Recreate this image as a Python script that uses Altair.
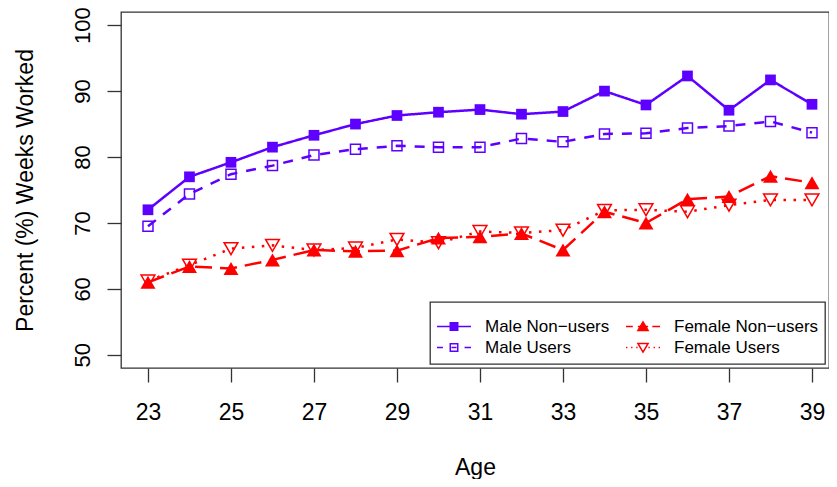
import altair as alt
import pandas as pd

ages = list(range(23, 40))
male_nonusers = [72.0, 77.0, 79.2, 81.5, 83.3, 85.0, 86.3, 86.8, 87.2, 86.5, 86.9, 90.0, 87.9, 92.3, 87.1, 91.7, 88.0]
male_users = [69.5, 74.4, 77.4, 78.7, 80.3, 81.2, 81.7, 81.5, 81.5, 82.8, 82.3, 83.5, 83.6, 84.4, 84.7, 85.4, 83.7]
female_nonusers = [61.0, 63.4, 63.1, 64.4, 65.9, 65.7, 65.8, 67.7, 67.9, 68.4, 65.9, 71.7, 70.0, 73.6, 74.0, 77.1, 76.1]
female_users = [61.2, 63.6, 66.1, 66.6, 65.9, 66.2, 67.5, 67.0, 68.7, 68.5, 68.9, 71.9, 72.0, 71.7, 72.7, 73.5, 73.5]

# legend order (column-major: Male column, then Female column)
series_names = ["Male Non\u2212users", "Male Users", "Female Non\u2212users", "Female Users"]
series_values = [male_nonusers, male_users, female_nonusers, female_users]

x_ticks = [23, 25, 27, 29, 31, 33, 35, 37, 39]
y_ticks = [50, 60, 70, 80, 90, 100]

BLUE = "#5E00FF"
RED = "#FF0000"
FONT = "Liberation Sans"

rows = []
for name, vals in zip(series_names, series_values):
    for a, v in zip(ages, vals):
        rows.append({"Age": a, "Value": v, "Series": name})
df = pd.DataFrame(rows)

x_enc = alt.X(
    "Age:Q",
    scale=alt.Scale(domain=[22.35, 39.41], nice=False, zero=False),
    axis=alt.Axis(values=x_ticks, title="Age", grid=False, domain=False,
                  tickSize=14, tickColor="#333", tickWidth=1.3,
                  labelFontSize=23, labelFont=FONT, labelColor="black",
                  labelPadding=37, labelBaseline="alphabetic", labelFlush=False,
                  labelOverlap=False,
                  titleFontSize=23, titleFont=FONT, titleFontWeight="normal",
                  titleColor="black", titleBaseline="alphabetic", titleY=106),
)
y_enc = alt.Y(
    "Value:Q",
    scale=alt.Scale(domain=[48, 102], nice=False, zero=False),
    axis=alt.Axis(values=y_ticks, title="Percent (%) Weeks Worked", grid=False,
                  domain=False, tickSize=14, tickColor="#333", tickWidth=1.3,
                  labelFontSize=22, labelFont=FONT, labelColor="black",
                  labelAngle=-90, labelAlign="center", labelBaseline="alphabetic",
                  labelPadding=18, labelFlush=False, labelOverlap=False,
                  titleFontSize=23, titleFont=FONT, titleFontWeight="normal",
                  titleColor="black", titleAngle=-90, titleAlign="center",
                  titleBaseline="alphabetic", titleX=-89, titleY=178),
)

styles = {
    "Male Non\u2212users": dict(color=BLUE, dash=[1, 0], shape="square", filled=True, size=115),
    "Male Users": dict(color=BLUE, dash=[10, 9], shape="square", filled=False, size=100),
    "Female Non\u2212users": dict(color=RED, dash=[17, 8], shape="triangle-up", filled=True, size=225),
    "Female Users": dict(color=RED, dash=[2.5, 7.5], shape="triangle-down", filled=False, size=190),
}

base = alt.Chart(df)
layers = []
for name in series_names:
    s = styles[name]
    sub = base.transform_filter(alt.datum.Series == name)
    layers.append(
        sub.mark_line(color=s["color"], strokeWidth=2.5, strokeDash=s["dash"]).encode(x=x_enc, y=y_enc)
    )
for name in series_names:
    s = styles[name]
    sub = base.transform_filter(alt.datum.Series == name)
    if s["filled"]:
        mk = sub.mark_point(shape=s["shape"], size=s["size"], filled=True, color=s["color"],
                            opacity=1, strokeWidth=0)
    else:
        mk = sub.mark_point(shape=s["shape"], size=s["size"], filled=False, color=s["color"],
                            opacity=1, strokeWidth=1.5)
    layers.append(mk.encode(x=x_enc, y=y_enc))

# legend symbols: line + marker, normalized [-1, 1] coordinates
sq = "M-0.22,-0.22L0.22,-0.22L0.22,0.22L-0.22,0.22Z"
tri_up = "M0,-0.27L0.3,0.24L-0.3,0.24Z"
tri_dn = "M0,0.27L0.3,-0.24L-0.3,-0.24Z"
solid = "M-1,0L1,0"
dashed = "M-1,0L-0.65,0M-0.15,0L0.15,0M0.62,0L1,0"
longdash = "M-1,0L-0.6,0M-0.3,0L0.3,0M0.55,0L1,0"
dotted = "M-1,0L-0.92,0M-0.7,0L-0.62,0M-0.4,0L-0.32,0M0.32,0L0.4,0M0.62,0L0.7,0M0.92,0L1,0"
legend_paths = [
    solid + sq,
    dashed + sq,
    longdash + tri_up,
    dotted + tri_dn,
]
legend_stroke = [BLUE, BLUE, RED, RED]
legend_fill = [BLUE, "transparent", RED, "transparent"]

legend_layer = base.mark_point(opacity=0).encode(
    x=x_enc, y=y_enc,
    shape=alt.Shape("Series:N", scale=alt.Scale(domain=series_names, range=legend_paths),
                    legend=alt.Legend(title=" ")),
    stroke=alt.Stroke("Series:N", scale=alt.Scale(domain=series_names, range=legend_stroke),
                      legend=alt.Legend(title=" ")),
    fill=alt.Fill("Series:N", scale=alt.Scale(domain=series_names, range=legend_fill),
                  legend=alt.Legend(title=" ")),
)
layers.append(legend_layer)

chart = alt.layer(*layers).properties(
    width=708, height=356,
    autosize=alt.AutoSizeParams(type="none"),
    padding={"left": 113, "top": 4, "right": 0, "bottom": 111},
).configure_view(
    stroke="#333", strokeWidth=1.3
).configure_legend(
    orient="bottom-right", offset=4, columns=2, padding=6,
    strokeColor="#333", strokeWidth=1.3, fillColor="white",
    symbolSize=1156, symbolStrokeWidth=1.5, symbolOpacity=1,
    labelFontSize=17, labelFont=FONT, labelColor="black", labelOffset=13,
    rowPadding=0, columnPadding=15, labelLimit=400, clipHeight=21,
    titleFontSize=5, titlePadding=3,
)

chart.save("out.html", embed_options={"renderer": "svg", "actions": False})
